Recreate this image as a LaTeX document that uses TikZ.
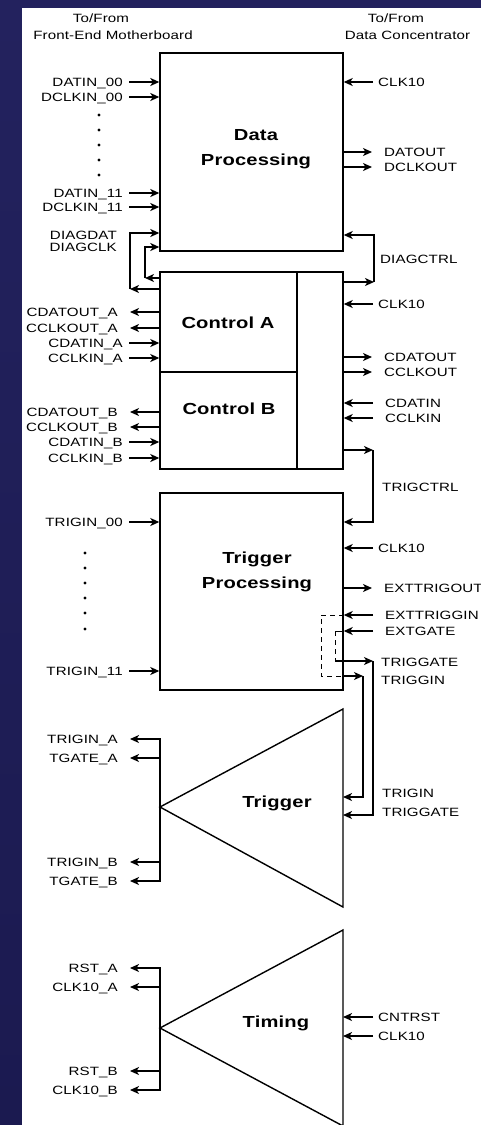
\documentclass[tikz,border=0pt]{standalone}
\usepackage{fontspec}
\setmainfont{Liberation Sans}[FakeStretch=1.26,LetterSpace=1]
\usetikzlibrary{arrows.meta}
\definecolor{navytop}{HTML}{23225E}
\definecolor{navymid}{HTML}{302F8C}
\definecolor{navybot}{HTML}{1B1A50}
\newcommand{\sigfont}{\fontsize{12}{13}\selectfont}
\newcommand{\blkfont}{\fontsize{16}{25}\selectfont\bfseries}
\begin{document}
\begin{tikzpicture}[x=1pt,y=-1pt,
    sigtxt/.style={font=\sigfont,inner ysep=1pt,inner xsep=0pt,text height=8.6pt,text depth=0pt},
    lnear/.style={sigtxt,anchor=east,inner xsep=6pt},
    lfar/.style={sigtxt,anchor=east,inner xsep=12pt},
    rnear/.style={sigtxt,anchor=west,inner xsep=5pt},
    rfar/.style={sigtxt,anchor=west,inner xsep=12pt},
    blk/.style={draw,line width=1.4pt,fill=white,minimum width=183pt,minimum height=197pt},
    blktitle/.style={font=\blkfont,align=center},
    wire/.style={line width=1.4pt},
    sig/.style={wire,-{Stealth[length=9pt,width=8pt,inset=2.5pt]}},
    hint/.style={thin,dash pattern=on 5pt off 4pt}]
    \useasboundingbox (0,0) rectangle (481,1125);
    \shade[top color=navytop,middle color=navymid,bottom color=navybot] (0,0) rectangle (481,1125); %Hintergrund
    \fill[white] (22,8) rectangle (481,1125);
    \node[sigtxt] (femtop) at (101,18) {To/From};
    \node[sigtxt] (fem) at (113,35) {Front-End Motherboard};
    \node[sigtxt] (dctop) at (396,18) {To/From};
    \node[sigtxt] (dc) at (407.5,35) {Data Concentrator};
    % Bloecke
    \node[blk,minimum height=198pt] (dp) at (251.5,152) {};
    \node[blktitle] (dptxt) at (256,149.5) {Data\\Processing};
    \node[blk] (ctl) at (251.5,370.5) {};
    \draw[wire] (297,272)--(297,469);
    \draw[wire] (160,372)--(297,372);
    \node[blktitle] (ctla) at (228,323) {Control A};
    \node[blktitle] (ctlb) at (229,409) {Control B};
    \node[blk] (tp) at (251.5,591.5) {};
    \node[blktitle] (tptxt) at (257,572) {Trigger\\Processing};
    \draw[wire,fill=white] (343,709) coordinate (trgtop)--(160,807) coordinate (trgapex)--(343,907)--cycle;
    \node[blktitle] (trg) at (277,803) {Trigger};
    \draw[wire,fill=white] (343,930) coordinate (timtop)--(160,1028) coordinate (timapex)--(343,1126)--cycle;
    \node[blktitle] (tim) at (276,1023) {Timing};
    % Data Processing links
    \node[lnear] (datin00) at (129,82) {DATIN\_00};
    \node[lnear] (dclkin00) at (129,97) {DCLKIN\_00};
    \node[lnear] (datin11) at (129,193) {DATIN\_11};
    \node[lnear] (dclkin11) at (129,207) {DCLKIN\_11};
    \draw[sig] (datin00)--(datin00 -| dp.west);
    \draw[sig] (dclkin00)--(dclkin00 -| dp.west);
    \draw[sig] (datin11)--(datin11 -| dp.west);
    \draw[sig] (dclkin11)--(dclkin11 -| dp.west);
    \fill (99,115) circle (1.7) (99,130) circle (1.7) (99,145) circle (1.7) (99,160) circle (1.7) (99,175) circle (1.7);
    \node[sigtxt,anchor=east] (diagdat) at (117,235) {DIAGDAT};
    \node[sigtxt,anchor=east] (diagclk) at (117,247) {DIAGCLK};
    \coordinate (dd1) at (130,289); \coordinate (dd2) at (130,233);
    \coordinate (dc1) at (145,278); \coordinate (dc2) at (145,247);
    \draw[sig] (dd1 -| ctl.west)--(dd1);
    \draw[sig] (dd1)--(dd2)--(dd2 -| dp.west);
    \draw[sig] (dc1 -| ctl.west)--(dc1);
    \draw[sig] (dc1)--(dc2)--(dc2 -| dp.west);
    % Data Processing rechts
    \node[rnear] (clk10dp) at (373,82) {CLK10};
    \draw[sig] (clk10dp)--(clk10dp -| dp.east);
    \node[rfar] (datout) at (372,152) {DATOUT};
    \node[rfar] (dclkout) at (372,167) {DCLKOUT};
    \draw[sig] (datout -| dp.east)--(datout);
    \draw[sig] (dclkout -| dp.east)--(dclkout);
    \coordinate (dg1) at (374,282); \coordinate (dg2) at (374,235);
    \draw[sig] (dg1 -| ctl.east)--(dg1);
    \draw[sig] (dg1)--(dg2)--(dg2 -| dp.east);
    \node[sigtxt,anchor=west] (diagctrl) at (380,259) {DIAGCTRL};
    % Control links
    \node[lfar] (cdatouta) at (130,312) {CDATOUT\_A};
    \node[lfar] (cclkouta) at (130,328) {CCLKOUT\_A};
    \node[lnear] (cdatina) at (129,343) {CDATIN\_A};
    \node[lnear] (cclkina) at (129,358) {CCLKIN\_A};
    \node[lfar] (cdatoutb) at (130,412) {CDATOUT\_B};
    \node[lfar] (cclkoutb) at (130,427) {CCLKOUT\_B};
    \node[lnear] (cdatinb) at (129,442) {CDATIN\_B};
    \node[lnear] (cclkinb) at (129,458) {CCLKIN\_B};
    \draw[sig] (cdatouta -| ctl.west)--(cdatouta);
    \draw[sig] (cclkouta -| ctl.west)--(cclkouta);
    \draw[sig] (cdatina)--(cdatina -| ctl.west);
    \draw[sig] (cclkina)--(cclkina -| ctl.west);
    \draw[sig] (cdatoutb -| ctl.west)--(cdatoutb);
    \draw[sig] (cclkoutb -| ctl.west)--(cclkoutb);
    \draw[sig] (cdatinb)--(cdatinb -| ctl.west);
    \draw[sig] (cclkinb)--(cclkinb -| ctl.west);
    % Control rechts
    \node[rnear] (clk10ctl) at (373,304) {CLK10};
    \node[rfar] (cdatout) at (372,357) {CDATOUT};
    \node[rfar] (cclkout) at (372,372) {CCLKOUT};
    \node[rfar] (cdatin) at (373,403) {CDATIN};
    \node[rfar] (cclkin) at (373,418) {CCLKIN};
    \draw[sig] (clk10ctl)--(clk10ctl -| ctl.east);
    \draw[sig] (cdatout -| ctl.east)--(cdatout);
    \draw[sig] (cclkout -| ctl.east)--(cclkout);
    \draw[sig] (cdatin)--(cdatin -| ctl.east);
    \draw[sig] (cclkin)--(cclkin -| ctl.east);
    \coordinate (tc1) at (373,450); \coordinate (tc2) at (373,522);
    \draw[sig] (tc1 -| ctl.east)--(tc1);
    \draw[sig] (tc1)--(tc2)--(tc2 -| tp.east);
    \node[sigtxt,anchor=west] (trigctrl) at (382,487) {TRIGCTRL};
    % Trigger Processing links
    \node[lnear] (trigin00) at (129,522) {TRIGIN\_00};
    \node[lnear] (trigin11) at (129,671) {TRIGIN\_11};
    \draw[sig] (trigin00)--(trigin00 -| tp.west);
    \draw[sig] (trigin11)--(trigin11 -| tp.west);
    \fill (85,553) circle (1.7) (85,568) circle (1.7) (85,583) circle (1.7) (85,598) circle (1.7) (85,613) circle (1.7) (85,629) circle (1.7);
    % Trigger Processing rechts
    \node[rnear] (clk10tp) at (373,548) {CLK10};
    \node[rfar] (exttrigout) at (372,588) {EXTTRIGOUT};
    \node[rfar] (exttriggin) at (373,615) {EXTTRIGGIN};
    \node[rfar] (extgate) at (373,631) {EXTGATE};
    \draw[sig] (clk10tp)--(clk10tp -| tp.east);
    \draw[sig] (exttrigout -| tp.east)--(exttrigout);
    \draw[sig] (exttriggin)--(exttriggin -| tp.east);
    \draw[sig] (extgate)--(extgate -| tp.east);
    \node[sigtxt,anchor=west] (triggate) at (381,662) {TRIGGATE};
    \node[sigtxt,anchor=west] (triggin) at (381,680) {TRIGGIN};
    \coordinate (xg1) at (321,615); \coordinate (xg2) at (321,676);
    \draw[hint] (exttriggin -| tp.east)--(xg1)--(xg2)--(xg2 -| tp.east);
    \coordinate (tgn1) at (363,676); \coordinate (tgn2) at (363,797);
    \draw[sig] (xg2 -| tp.east)--(tgn1);
    \draw[sig] (tgn1)--(tgn2)--(tgn2 -| trgtop);
    \coordinate (eg1) at (335,631); \coordinate (eg2) at (335,661);
    \draw[thin] (extgate -| tp.east)--(eg1);
    \draw[hint] (eg1)--(eg2);
    \coordinate (tgt1) at (373,661); \coordinate (tgt2) at (373,815);
    \draw[sig] (eg2)--(tgt1);
    \draw[sig] (tgt1)--(tgt2)--(tgt2 -| trgtop);
    \node[sigtxt,anchor=west] (trigin) at (382,793) {TRIGIN};
    \node[sigtxt,anchor=west] (triggate2) at (382,812) {TRIGGATE};
    % Trigger links
    \node[lfar] (trigina) at (130,739) {TRIGIN\_A};
    \node[lfar] (tgatea) at (130,758) {TGATE\_A};
    \node[lfar] (triginb) at (130,862) {TRIGIN\_B};
    \node[lfar] (tgateb) at (130,881) {TGATE\_B};
    \draw[sig] (tgateb -| trgapex)--(trigina -| trgapex)--(trigina);
    \draw[sig] (trigina -| trgapex)--(tgateb -| trgapex)--(tgateb);
    \draw[sig] (tgatea -| trgapex)--(tgatea);
    \draw[sig] (triginb -| trgapex)--(triginb);
    % Timing
    \node[lfar] (rsta) at (130,968) {RST\_A};
    \node[lfar] (clk10a) at (130,987) {CLK10\_A};
    \node[lfar] (rstb) at (130,1071) {RST\_B};
    \node[lfar] (clk10b) at (130,1090) {CLK10\_B};
    \draw[sig] (clk10b -| timapex)--(rsta -| timapex)--(rsta);
    \draw[sig] (rsta -| timapex)--(clk10b -| timapex)--(clk10b);
    \draw[sig] (clk10a -| timapex)--(clk10a);
    \draw[sig] (rstb -| timapex)--(rstb);
    \node[rnear] (cntrst) at (373,1017) {CNTRST};
    \node[rnear] (clk10tim) at (373,1036) {CLK10};
    \draw[sig] (cntrst)--(cntrst -| timtop);
    \draw[sig] (clk10tim)--(clk10tim -| timtop);
\end{tikzpicture}
\end{document}
